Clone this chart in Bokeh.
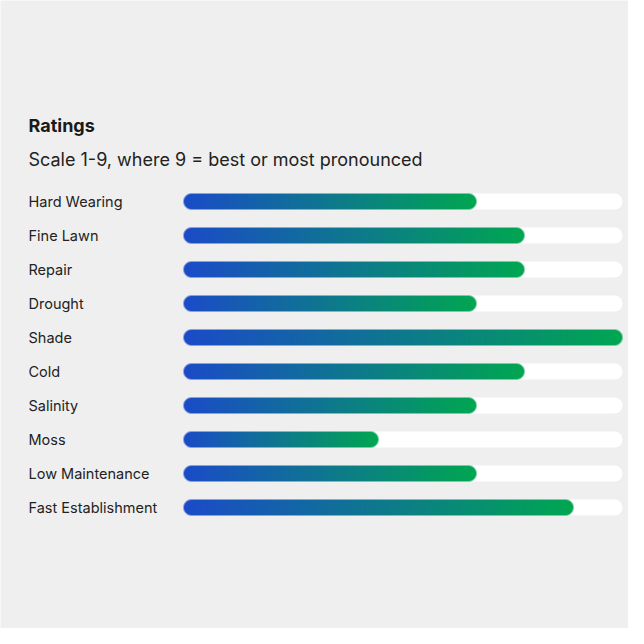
import numpy as np
from bokeh.plotting import figure
from bokeh.models import Range1d
from bokeh.core.properties import value
from bokeh.embed import file_html
from bokeh.resources import INLINE

categories = ["Hard Wearing", "Fine Lawn", "Repair", "Drought", "Shade", "Cold",
              "Salinity", "Moss", "Low Maintenance", "Fast Establishment"]
ratings = [6, 7, 7, 6, 9, 7, 6, 4, 6, 8]
scale_max = 9
title_text = "Ratings"
subtitle_text = "Scale 1-9, where 9 = best or most pronounced"

W = H = 628
BG = "#efefef"
C0 = (27, 75, 200)
C1 = (0, 166, 81)

track_left_px = 183
track_w_px = 439
row0_px = 201
row_gap_px = 34
bar_h_px = 16

sx = track_w_px / scale_max
x0 = -track_left_px / sx
x1 = x0 + W / sx
y_top = row0_px / row_gap_px
y_bot = y_top - H / row_gap_px

def px_x(px):
    return x0 + px / sx

def px_y(py):
    return y_top - py / row_gap_px

p = figure(width=W, height=H, output_backend="svg", toolbar_location=None, tools="",
           x_range=Range1d(x0, x1), y_range=Range1d(y_bot, y_top),
           background_fill_color=BG, border_fill_color=BG, outline_line_color=None,
           min_border=0, x_axis_location=None, y_axis_location=None)
p.grid.visible = False

r = (bar_h_px / 2) / sx
hh = (bar_h_px / 2) / row_gap_px
rows = [-i for i in range(len(categories))]

# tracks
p.segment(x0=[r] * len(rows), x1=[scale_max - r] * len(rows), y0=rows, y1=rows,
          line_color="white", line_width=bar_h_px, line_cap="round")

def pill_image(v):
    w = max(int(round(v * sx)), bar_h_px)
    h = bar_h_px
    rad = h / 2
    xs = np.arange(w) + 0.5
    ys = np.arange(h) + 0.5
    X, Y = np.meshgrid(xs, ys)
    cxp = np.clip(X, rad, w - rad)
    d = np.sqrt((X - cxp) ** 2 + (Y - rad) ** 2)
    alpha = np.clip(rad - d + 0.5, 0, 1)
    t = X / w
    img = np.empty((h, w), dtype=np.uint32)
    view = img.view(dtype=np.uint8).reshape((h, w, 4))
    for ch in range(3):
        view[:, :, ch] = np.round(C0[ch] + (C1[ch] - C0[ch]) * t).astype(np.uint8)
    view[:, :, 3] = np.round(alpha * 255).astype(np.uint8)
    return img, w

for yv, v in zip(rows, ratings):
    img, w = pill_image(v)
    p.image_rgba(image=[img], x=0, y=yv - hh, dw=w / sx, dh=2 * hh)

# category labels
p.text(x=[px_x(28)] * len(rows), y=rows, text=categories, text_font=value("Inter"),
       text_font_size="14.5px", text_color="#222222", text_baseline="middle", text_align="left")

# title and subtitle
p.text(x=[px_x(28)], y=[px_y(125)], text=[title_text], text_font=value("Inter"),
       text_font_size="18px", text_font_style="bold", text_color="#1a1a1a",
       text_baseline="middle", text_align="left")
p.text(x=[px_x(28)], y=[px_y(159)], text=[subtitle_text], text_font=value("Inter"),
       text_font_size="18px", text_color="#222222", text_baseline="middle", text_align="left")

html = file_html(p, INLINE)
html = html.replace("<body>", '<body style="background:%s">' % BG, 1)
open("out.html", "w").write(html)
